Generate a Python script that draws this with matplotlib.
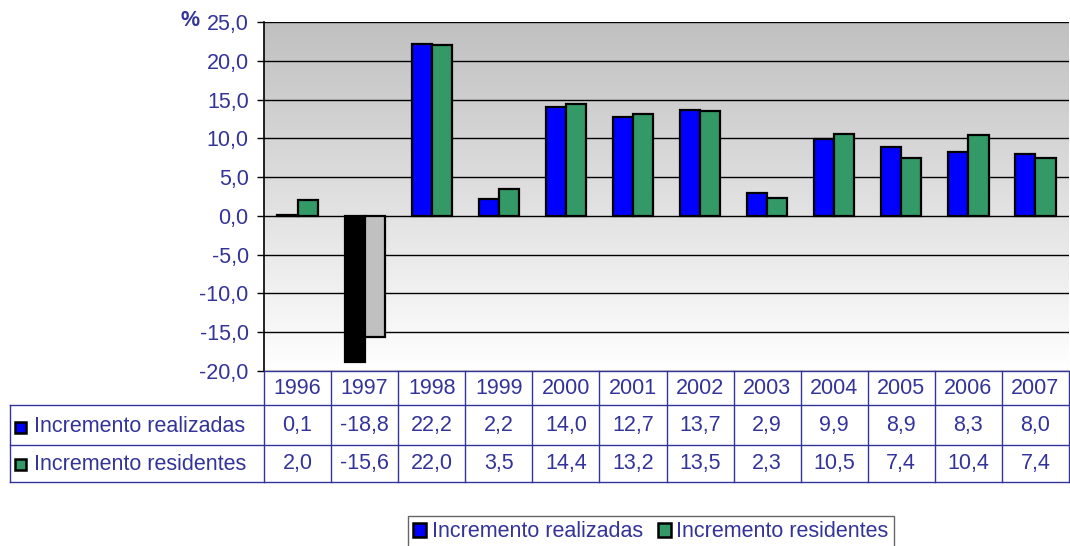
import numpy as np
import matplotlib
matplotlib.use("Agg")
import matplotlib.pyplot as plt
from matplotlib.lines import Line2D
from matplotlib.patches import Patch, Rectangle

plt.rcParams['font.family'] = ['Liberation Sans', 'DejaVu Sans']

years = ["1996", "1997", "1998", "1999", "2000", "2001", "2002", "2003", "2004", "2005", "2006", "2007"]
realizadas = [0.1, -18.8, 22.2, 2.2, 14.0, 12.7, 13.7, 2.9, 9.9, 8.9, 8.3, 8.0]
residentes = [2.0, -15.6, 22.0, 3.5, 14.4, 13.2, 13.5, 2.3, 10.5, 7.4, 10.4, 7.4]
series_names = ["Incremento realizadas", "Incremento residentes"]
yticks = [-20, -15, -10, -5, 0, 5, 10, 15, 20, 25]

W, H = 1070, 546
TXT = '#333399'
BLUE = '#0000FF'
GREEN = '#339966'
NEG1 = '#000000'
NEG2 = '#C0C0C0'
FS = 15.5

fig = plt.figure(figsize=(W / 100, H / 100), dpi=100)

def fx(x):
    return x / W

def fy(y):
    return 1 - y / H

L, R, T, B = 264, 1069, 22, 371
ax = fig.add_axes([fx(L), fy(B), fx(R) - fx(L), fy(T) - fy(B)])
n = len(years)

# gradient background: gray at top, white at bottom
grad = np.linspace(192, 255, 256).reshape(-1, 1) / 255.0
img = np.dstack([grad, grad, grad])
ax.imshow(img, extent=[-0.5, n - 0.5, -20, 25], aspect='auto', zorder=0, origin='upper')
ax.set_xlim(-0.5, n - 0.5)
ax.set_ylim(-20, 25)

x = np.arange(n)
w = 0.3
c1 = [BLUE if v >= 0 else NEG1 for v in realizadas]
c2 = [GREEN if v >= 0 else NEG2 for v in residentes]
ax.bar(x - w / 2, realizadas, width=w, color=c1, edgecolor='black', linewidth=1.6, zorder=3)
ax.bar(x + w / 2, residentes, width=w, color=c2, edgecolor='black', linewidth=1.6, zorder=3)

ax.set_yticks(yticks)
ax.set_yticklabels([f"{v:.1f}".replace('.', ',') for v in yticks], color=TXT, fontsize=FS)
ax.tick_params(axis='y', length=5, width=1, color='black', pad=6)
ax.set_xticks([])
ax.yaxis.grid(True, color='black', linewidth=1)
ax.set_axisbelow(True)
for s in ['top', 'right']:
    ax.spines[s].set_visible(False)
ax.spines['left'].set_color('black')
ax.spines['left'].set_linewidth(1.2)
ax.spines['bottom'].set_color(TXT)
ax.spines['bottom'].set_linewidth(1)

fig.text(fx(190), fy(21), "%", color=TXT, fontsize=FS, fontweight='bold', ha='center', va='center')

# data table
def hline(y, x0, x1):
    fig.add_artist(Line2D([fx(x0), fx(x1)], [fy(y), fy(y)], color=TXT, lw=1, transform=fig.transFigure))

def vline(xp, y0, y1):
    fig.add_artist(Line2D([fx(xp), fx(xp)], [fy(y0), fy(y1)], color=TXT, lw=1, transform=fig.transFigure))

TL = 10
colw = (R - L) / n
for k in range(n + 1):
    vline(L + k * colw, 371, 482)
vline(TL, 405, 482)
hline(405, TL, R)
hline(445, TL, R)
hline(482, TL, R)

for i, yr in enumerate(years):
    cx = L + (i + 0.5) * colw
    fig.text(fx(cx), fy(389), yr, color=TXT, fontsize=FS, ha='center', va='center')
    fig.text(fx(cx), fy(426), f"{realizadas[i]:.1f}".replace('.', ','), color=TXT, fontsize=FS, ha='center', va='center')
    fig.text(fx(cx), fy(464), f"{residentes[i]:.1f}".replace('.', ','), color=TXT, fontsize=FS, ha='center', va='center')

for name, col, yc in [(series_names[0], BLUE, 427), (series_names[1], GREEN, 464)]:
    fig.add_artist(Rectangle((fx(15), fy(yc + 6)), fx(11), 11 / H, facecolor=col, edgecolor='black',
                             lw=1.8, transform=fig.transFigure))
    fig.text(fx(34), fy(yc), name, color=TXT, fontsize=FS, ha='left', va='center')

# legend
handles = [Patch(facecolor=BLUE, edgecolor='black', lw=1.8), Patch(facecolor=GREEN, edgecolor='black', lw=1.8)]
leg = fig.legend(handles, series_names, loc='upper center', bbox_to_anchor=(fx(651), fy(516)),
                 ncol=2, fontsize=FS, frameon=True, fancybox=False, edgecolor='#404040',
                 handlelength=0.6, handleheight=0.6, handletextpad=0.25, columnspacing=0.7,
                 borderpad=0.25, borderaxespad=0)
leg.get_frame().set_linewidth(1)
for t in leg.get_texts():
    t.set_color(TXT)

fig.savefig("out.png", dpi=100)
